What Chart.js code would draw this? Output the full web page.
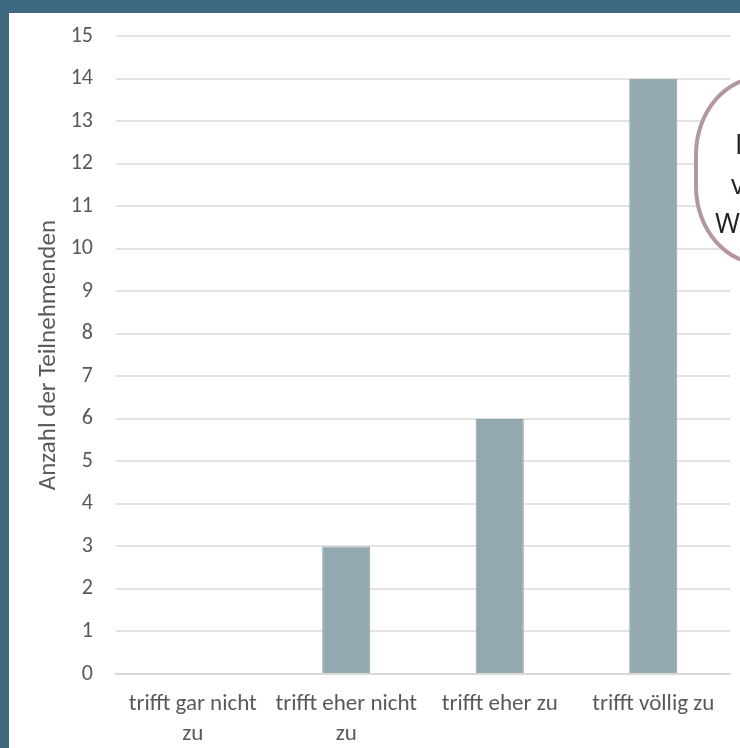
<!DOCTYPE html>
<html>
<head>
<meta charset="utf-8">
<script src="https://cdn.jsdelivr.net/npm/chart.js@4/dist/chart.umd.min.js"></script>
<style>
  html, body { margin: 0; padding: 0; }
  body { width: 740px; height: 748px; background: #3d6a80; position: relative; overflow: hidden; }
  #panel { position: absolute; left: 9px; top: 13px; width: 731px; height: 735px; background: #ffffff; }
  #wrap { position: absolute; left: 0; top: 0; width: 740px; height: 748px; }
  #callout {
    position: absolute; left: 694px; top: 75px; width: 130px; height: 183px;
    border: 4px solid #b4979c; border-radius: 80px / 92px; background: #ffffff;
  }
  .note { position: absolute; font-family: "Open Sans", "DejaVu Sans", sans-serif; font-weight: 400;
          font-size: 27px; color: #222222; line-height: 1; white-space: nowrap; }
</style>
</head>
<body>
<div id="panel"></div>
<div id="wrap"><canvas id="c" width="740" height="748"></canvas></div>
<div id="callout"></div>
<span class="note" style="left:735px; top:130px;">I</span>
<span class="note" style="left:731px; top:170px;">v</span>
<span class="note" style="left:715px; top:209px;">W</span>
<script>
// Antwortkategorien und Anzahl der Nennungen
const categories = [
  ['trifft gar nicht', 'zu'],
  ['trifft eher nicht', 'zu'],
  'trifft eher zu',
  'trifft völlig zu'
];
const counts = [0, 3, 6, 14];
const yTicks = [0, 15, 1]; // min, max, step
const yTitle = 'Anzahl der Teilnehmenden';

const fontFamily = 'Carlito, Lato, "Open Sans", sans-serif';

new Chart(document.getElementById('c'), {
  type: 'bar',
  data: {
    labels: categories,
    datasets: [{
      data: counts,
      backgroundColor: '#93a8b0',
      borderColor: '#8aa0a8',
      borderWidth: 1,
      barPercentage: 0.313,
      categoryPercentage: 1
    }]
  },
  options: {
    responsive: false,
    animation: false,
    layout: { padding: { top: 33, right: 10, left: 0, bottom: 0 } },
    plugins: { legend: { display: false }, tooltip: { enabled: false } },
    scales: {
      x: {
        grid: { display: false, drawTicks: false },
        border: { display: true, color: '#d9d9d9', width: 2 },
        ticks: {
          color: '#595959', padding: 15, maxRotation: 0, autoSkip: false,
          font: { family: fontFamily, size: 23, lineHeight: 30 / 23 }
        },
        afterFit: s => { s.height = 74; }
      },
      y: {
        min: yTicks[0], max: yTicks[1],
        grid: { color: '#e3e3e3', lineWidth: 2, drawTicks: false },
        border: { display: false },
        ticks: { stepSize: yTicks[2], color: '#595959', padding: 23,
                 font: { family: fontFamily, size: 22 } },
        title: {
          display: true, text: yTitle, color: '#595959',
          font: { family: fontFamily, size: 25 },
          padding: { top: 34, bottom: 0 }
        },
        afterFit: s => { s.width = 116; }
      }
    }
  }
});
</script>
</body>
</html>
